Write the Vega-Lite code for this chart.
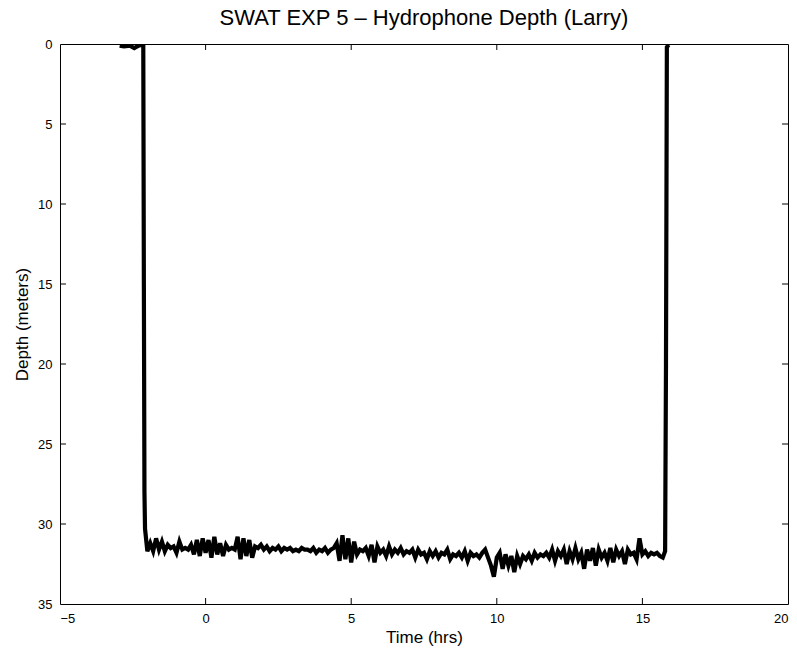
{
  "$schema": "https://vega.github.io/schema/vega-lite/v6.json",
  "width": 728,
  "height": 560,
  "autosize": "none",
  "padding": {"left": 60, "top": 44, "right": 9, "bottom": 49},
  "background": "white",
  "title": {"text": "SWAT EXP 5 – Hydrophone Depth (Larry)", "font": "Liberation Sans", "fontSize": 22, "fontWeight": "normal", "color": "black", "offset": 8},
  "config": {
    "view": {"stroke": "black", "strokeWidth": 1},
    "axis": {"domain": false, "grid": false, "ticks": false, "labelColor": "black", "titleColor": "black", "labelFont": "Liberation Sans", "titleFont": "Liberation Sans", "labelFontSize": 13, "titleFontSize": 17, "titleFontWeight": "normal", "labelPadding": 8}
  },
  "datasets": {
    "xt": [{"v": 0}, {"v": 5}, {"v": 10}, {"v": 15}],
    "yt": [{"v": 5}, {"v": 10}, {"v": 15}, {"v": 20}, {"v": 25}, {"v": 30}]
  },
  "data": {"values": [
    {"t": -2.95, "d": 0.1}, {"t": -2.8, "d": 0.15}, {"t": -2.6, "d": 0.1}, {"t": -2.45, "d": 0.25}, {"t": -2.3, "d": 0.1}, {"t": -2.18, "d": 0.05},
    {"t": -2.14, "d": 0.1}, {"t": -2.12, "d": 15}, {"t": -2.1, "d": 28}, {"t": -2.08, "d": 30.3}, {"t": -2.04, "d": 31.0}, {"t": -2.0, "d": 31.7},
    {"t": -1.9, "d": 31.2}, {"t": -1.8, "d": 31.7}, {"t": -1.7, "d": 30.9}, {"t": -1.6, "d": 31.6}, {"t": -1.5, "d": 31.1}, {"t": -1.4, "d": 31.7},
    {"t": -1.3, "d": 31.3}, {"t": -1.2, "d": 31.5}, {"t": -1.1, "d": 31.4}, {"t": -1.0, "d": 31.8}, {"t": -0.9, "d": 31.1}, {"t": -0.8, "d": 31.6},
    {"t": -0.7, "d": 31.5}, {"t": -0.6, "d": 31.6}, {"t": -0.5, "d": 31.3}, {"t": -0.4, "d": 31.9}, {"t": -0.3, "d": 31.0}, {"t": -0.2, "d": 32.0},
    {"t": -0.1, "d": 30.9}, {"t": 0.0, "d": 31.8}, {"t": 0.1, "d": 31.0}, {"t": 0.2, "d": 32.1}, {"t": 0.3, "d": 30.8}, {"t": 0.4, "d": 31.9},
    {"t": 0.5, "d": 31.2}, {"t": 0.6, "d": 32.0}, {"t": 0.7, "d": 31.3}, {"t": 0.8, "d": 31.6}, {"t": 0.9, "d": 31.5}, {"t": 1.0, "d": 31.6},
    {"t": 1.1, "d": 30.8}, {"t": 1.2, "d": 32.2}, {"t": 1.3, "d": 30.9}, {"t": 1.4, "d": 32.0}, {"t": 1.5, "d": 31.0}, {"t": 1.6, "d": 32.1},
    {"t": 1.7, "d": 31.4}, {"t": 1.8, "d": 31.5}, {"t": 1.9, "d": 31.3}, {"t": 2.0, "d": 31.6}, {"t": 2.1, "d": 31.4}, {"t": 2.2, "d": 31.7},
    {"t": 2.3, "d": 31.5}, {"t": 2.4, "d": 31.6}, {"t": 2.5, "d": 31.4}, {"t": 2.6, "d": 31.7}, {"t": 2.7, "d": 31.5}, {"t": 2.8, "d": 31.6},
    {"t": 2.9, "d": 31.5}, {"t": 3.0, "d": 31.7}, {"t": 3.1, "d": 31.6}, {"t": 3.2, "d": 31.7}, {"t": 3.3, "d": 31.5}, {"t": 3.4, "d": 31.6},
    {"t": 3.5, "d": 31.6}, {"t": 3.6, "d": 31.7}, {"t": 3.7, "d": 31.5}, {"t": 3.8, "d": 31.8}, {"t": 3.9, "d": 31.6}, {"t": 4.0, "d": 31.7},
    {"t": 4.1, "d": 31.5}, {"t": 4.2, "d": 31.8}, {"t": 4.3, "d": 31.6}, {"t": 4.4, "d": 31.5}, {"t": 4.5, "d": 31.2}, {"t": 4.6, "d": 32.3},
    {"t": 4.7, "d": 30.7}, {"t": 4.8, "d": 32.2}, {"t": 4.9, "d": 30.9}, {"t": 5.0, "d": 32.4}, {"t": 5.1, "d": 31.1}, {"t": 5.2, "d": 31.9},
    {"t": 5.3, "d": 31.6}, {"t": 5.4, "d": 31.7}, {"t": 5.5, "d": 31.5}, {"t": 5.6, "d": 32.0}, {"t": 5.7, "d": 31.3}, {"t": 5.8, "d": 32.4},
    {"t": 5.9, "d": 31.4}, {"t": 6.0, "d": 31.8}, {"t": 6.1, "d": 31.6}, {"t": 6.2, "d": 32.0}, {"t": 6.3, "d": 31.4}, {"t": 6.4, "d": 31.9},
    {"t": 6.5, "d": 31.6}, {"t": 6.6, "d": 31.8}, {"t": 6.7, "d": 31.5}, {"t": 6.8, "d": 31.9}, {"t": 6.9, "d": 31.7}, {"t": 7.0, "d": 31.8},
    {"t": 7.1, "d": 31.6}, {"t": 7.2, "d": 32.1}, {"t": 7.3, "d": 31.6}, {"t": 7.4, "d": 31.9}, {"t": 7.5, "d": 31.8}, {"t": 7.6, "d": 32.2},
    {"t": 7.7, "d": 31.7}, {"t": 7.8, "d": 32.0}, {"t": 7.9, "d": 31.7}, {"t": 8.0, "d": 32.1}, {"t": 8.1, "d": 31.8}, {"t": 8.2, "d": 31.9},
    {"t": 8.3, "d": 31.6}, {"t": 8.4, "d": 32.2}, {"t": 8.5, "d": 31.9}, {"t": 8.6, "d": 32.0}, {"t": 8.7, "d": 31.8}, {"t": 8.8, "d": 32.1},
    {"t": 8.9, "d": 31.7}, {"t": 9.0, "d": 32.3}, {"t": 9.1, "d": 31.8}, {"t": 9.2, "d": 32.0}, {"t": 9.3, "d": 31.9}, {"t": 9.4, "d": 32.1},
    {"t": 9.5, "d": 31.8}, {"t": 9.6, "d": 31.6}, {"t": 9.7, "d": 32.1}, {"t": 9.8, "d": 32.6}, {"t": 9.9, "d": 33.3}, {"t": 10.0, "d": 32.1},
    {"t": 10.1, "d": 31.8}, {"t": 10.2, "d": 32.8}, {"t": 10.3, "d": 31.9}, {"t": 10.4, "d": 32.6}, {"t": 10.5, "d": 32.0}, {"t": 10.6, "d": 33.0},
    {"t": 10.7, "d": 32.0}, {"t": 10.8, "d": 32.5}, {"t": 10.9, "d": 32.0}, {"t": 11.0, "d": 32.2}, {"t": 11.1, "d": 31.9}, {"t": 11.2, "d": 32.3},
    {"t": 11.3, "d": 31.8}, {"t": 11.4, "d": 32.1}, {"t": 11.5, "d": 31.9}, {"t": 11.6, "d": 32.0}, {"t": 11.7, "d": 31.8}, {"t": 11.8, "d": 32.1},
    {"t": 11.9, "d": 31.6}, {"t": 12.0, "d": 32.3}, {"t": 12.1, "d": 31.7}, {"t": 12.2, "d": 32.0}, {"t": 12.3, "d": 31.6}, {"t": 12.4, "d": 32.5},
    {"t": 12.5, "d": 31.7}, {"t": 12.6, "d": 32.2}, {"t": 12.7, "d": 31.5}, {"t": 12.8, "d": 32.2}, {"t": 12.9, "d": 31.8}, {"t": 13.0, "d": 32.8},
    {"t": 13.1, "d": 31.6}, {"t": 13.2, "d": 32.3}, {"t": 13.3, "d": 31.5}, {"t": 13.4, "d": 32.6}, {"t": 13.5, "d": 31.6}, {"t": 13.6, "d": 32.1},
    {"t": 13.7, "d": 31.8}, {"t": 13.8, "d": 32.3}, {"t": 13.9, "d": 31.5}, {"t": 14.0, "d": 32.4}, {"t": 14.1, "d": 31.6}, {"t": 14.2, "d": 32.0},
    {"t": 14.3, "d": 31.7}, {"t": 14.4, "d": 32.5}, {"t": 14.5, "d": 31.6}, {"t": 14.6, "d": 31.9}, {"t": 14.7, "d": 31.8}, {"t": 14.8, "d": 32.2},
    {"t": 14.9, "d": 30.9}, {"t": 15.0, "d": 31.9}, {"t": 15.1, "d": 31.7}, {"t": 15.2, "d": 32.0}, {"t": 15.3, "d": 31.8}, {"t": 15.4, "d": 31.9},
    {"t": 15.5, "d": 31.8}, {"t": 15.6, "d": 32.0}, {"t": 15.7, "d": 32.1}, {"t": 15.78, "d": 31.7}, {"t": 15.81, "d": 20}, {"t": 15.84, "d": 0.2},
    {"t": 15.9, "d": 0.05}
  ]},
  "layer": [
    {
      "mark": {"type": "line", "color": "black", "strokeWidth": 4.2, "clip": true},
      "encoding": {
        "x": {"field": "t", "type": "quantitative", "scale": {"domain": [-5, 20], "nice": false, "zero": false}, "axis": {"title": "Time (hrs)", "values": [-5, 0, 5, 10, 15, 20], "titlePadding": 4}},
        "y": {"field": "d", "type": "quantitative", "scale": {"domain": [0, 35], "reverse": true, "nice": false, "zero": false}, "axis": {"title": "Depth (meters)", "values": [0, 5, 10, 15, 20, 25, 30, 35], "titlePadding": 6}}
      }
    },
    {
      "data": {"name": "xt"},
      "mark": {"type": "tick", "orient": "vertical", "color": "black", "size": 12, "thickness": 1, "clip": true, "opacity": 1},
      "encoding": {"x": {"field": "v", "type": "quantitative"}, "y": {"datum": 35}}
    },
    {
      "data": {"name": "xt"},
      "mark": {"type": "tick", "orient": "vertical", "color": "black", "size": 12, "thickness": 1, "clip": true, "opacity": 1},
      "encoding": {"x": {"field": "v", "type": "quantitative"}, "y": {"datum": 0}}
    },
    {
      "data": {"name": "yt"},
      "mark": {"type": "tick", "orient": "horizontal", "color": "black", "size": 12, "thickness": 1, "clip": true, "opacity": 1},
      "encoding": {"y": {"field": "v", "type": "quantitative"}, "x": {"datum": -5}}
    },
    {
      "data": {"name": "yt"},
      "mark": {"type": "tick", "orient": "horizontal", "color": "black", "size": 12, "thickness": 1, "clip": true, "opacity": 1},
      "encoding": {"y": {"field": "v", "type": "quantitative"}, "x": {"datum": 20}}
    }
  ]
}
